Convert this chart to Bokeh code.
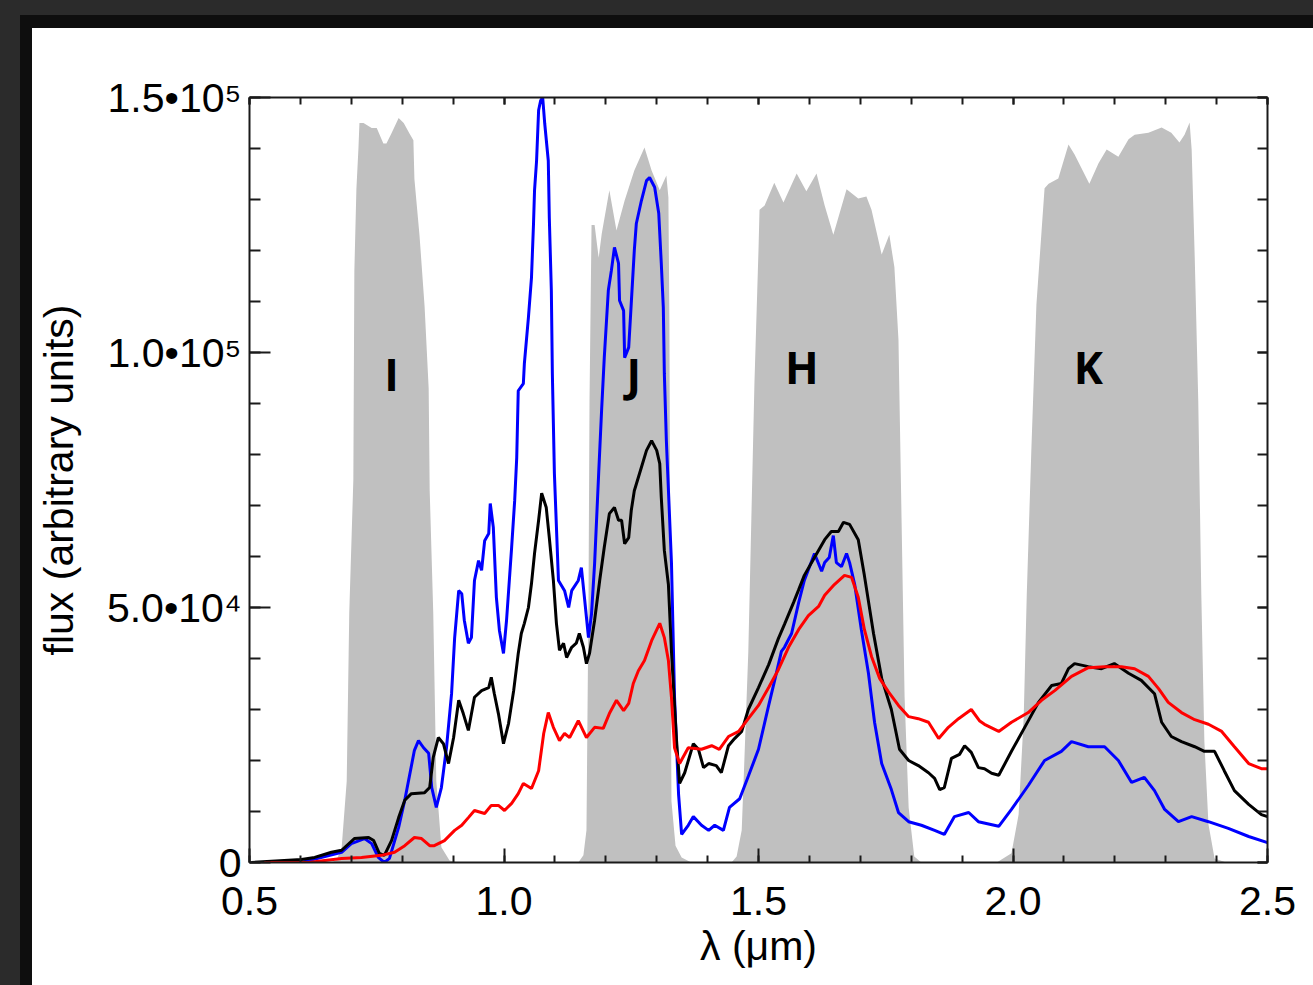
import numpy as np
from bokeh.plotting import figure
from bokeh.models import Range1d, LinearAxis, SingleIntervalTicker, Spacer, CustomJSTickFormatter
from bokeh.layouts import row, column
from bokeh.core.properties import value
from bokeh.embed import file_html
from bokeh.resources import INLINE

SCALE = 1000.0  # all flux values below are in units of 10^3 (arbitrary units)

# ---------------- filter transmission bands (grey) ----------------
I_band_x = [0.660, 0.671, 0.681, 0.691, 0.696, 0.704, 0.706, 0.710, 0.714, 0.716,
            0.724, 0.740, 0.750, 0.763, 0.769, 0.779, 0.793, 0.803, 0.814, 0.822,
            0.824, 0.834, 0.844, 0.852, 0.854, 0.861, 0.867, 0.877, 0.893, 0.910]
I_band_y = [0, 0.5, 2.9, 16, 49, 75, 116, 132, 140, 145,
            145, 144, 144, 141, 141, 143, 146, 145, 143, 141.6,
            134, 123, 109, 93, 73, 49, 16, 3, 0.4, 0]

J_band_x = [1.146, 1.156, 1.162, 1.166, 1.168, 1.172, 1.178, 1.186, 1.192, 1.207,
            1.221, 1.237, 1.256, 1.276, 1.290, 1.306, 1.319, 1.323, 1.325, 1.327,
            1.329, 1.337, 1.349, 1.368]
J_band_y = [0, 1.4, 6.3, 51, 90.6, 125, 125, 118.6, 123.3, 131.8,
            123.9, 129.8, 135.7, 140.2, 135.7, 131.8, 134.7, 130.4, 105.7, 51,
            12, 3.3, 1.0, 0]

H_band_x = [1.447, 1.457, 1.467, 1.472, 1.480, 1.486, 1.492, 1.500, 1.502, 1.512,
            1.531, 1.549, 1.575, 1.594, 1.614, 1.630, 1.647, 1.673, 1.696, 1.712,
            1.722, 1.742, 1.757, 1.767, 1.775, 1.781, 1.787, 1.795, 1.806, 1.820]
H_band_y = [0, 1.2, 6.3, 19.4, 41.4, 67.6, 93.9, 120.2, 128.0, 128.8,
            133.3, 129.4, 135.1, 131.6, 135.1, 128.8, 123.1, 132.0, 130.2, 130.6,
            128.0, 119.2, 123.1, 116.7, 102.5, 67.6, 32.5, 10.8, 1.2, 0]

K_band_x = [1.968, 1.997, 2.011, 2.021, 2.027, 2.036, 2.046, 2.056, 2.062, 2.070,
            2.089, 2.109, 2.121, 2.150, 2.168, 2.184, 2.207, 2.227, 2.239, 2.266,
            2.292, 2.311, 2.327, 2.337, 2.347, 2.351, 2.357, 2.364, 2.370, 2.376,
            2.384, 2.396, 2.419]
K_band_y = [0, 1.8, 9.4, 28.4, 52.4, 80.8, 109.4, 123.7, 132.2, 133.1,
            134.1, 140.8, 138.8, 133.1, 137.1, 139.8, 138.4, 141.8, 142.7, 143.1,
            144.1, 143.1, 141.2, 142.7, 145.1, 139.8, 118.8, 90.4, 52.4, 23.7,
            7.5, 0.8, 0]

band_labels = ["I", "J", "H", "K"]
band_label_x = [0.779, 1.255, 1.585, 2.148]
band_label_y = [95.7, 95.7, 97.2, 97.2]

# ---------------- spectra ----------------
blue_x = [0.504, 0.524, 0.602, 0.681, 0.700, 0.726, 0.740, 0.753, 0.765, 0.775,
          0.793, 0.805, 0.824, 0.832, 0.842, 0.852, 0.858, 0.867, 0.877, 0.887,
          0.897, 0.903, 0.911, 0.917, 0.922, 0.930, 0.936, 0.942, 0.950, 0.956,
          0.962, 0.970, 0.973, 0.979, 0.985, 0.991, 0.999, 1.005, 1.015, 1.021,
          1.025, 1.028, 1.038, 1.040, 1.048, 1.054, 1.058, 1.060, 1.064, 1.068,
          1.072, 1.076, 1.080, 1.087, 1.089, 1.093, 1.095, 1.097, 1.099, 1.107,
          1.119, 1.127, 1.133, 1.146, 1.152, 1.158, 1.166, 1.172, 1.178, 1.186,
          1.192, 1.197, 1.205, 1.211, 1.217, 1.225, 1.227, 1.235, 1.237, 1.245,
          1.250, 1.256, 1.260, 1.270, 1.280, 1.286, 1.296, 1.304, 1.309, 1.313,
          1.315, 1.319, 1.329, 1.335, 1.343, 1.349, 1.362, 1.372, 1.388, 1.402,
          1.414, 1.431, 1.443, 1.463, 1.480, 1.500, 1.520, 1.535, 1.545, 1.551,
          1.565, 1.579, 1.590, 1.610, 1.624, 1.630, 1.639, 1.647, 1.653, 1.663,
          1.673, 1.679, 1.689, 1.702, 1.716, 1.728, 1.742, 1.761, 1.775, 1.795,
          1.820, 1.846, 1.865, 1.885, 1.913, 1.932, 1.972, 1.997, 2.030, 2.062,
          2.095, 2.115, 2.148, 2.180, 2.207, 2.233, 2.258, 2.278, 2.298, 2.325,
          2.351, 2.384, 2.423, 2.463, 2.500]
blue_y = [0, 0, 0, 2.0, 3.7, 4.7, 3.7, 1.0, 0, 0.8,
          6.9, 12.2, 22.0, 23.9, 22.5, 21.4, 14.7, 10.8, 14.7, 22.5,
          33.1, 44.0, 53.3, 52.7, 47.5, 43.0, 44.1, 55.3, 59.2, 57.3,
          63.1, 64.5, 70.4, 65.7, 52.0, 45.5, 41.0, 47.5, 61.8, 71.0,
          79.4, 92.5, 93.9, 97.8, 106.9, 114.7, 125.3, 131.8, 137.6, 147.5,
          149.4, 150.0, 144.9, 137.6, 126.5, 112.2, 95.9, 86.1, 76.3, 55.3,
          53.3, 50.0, 53.3, 55.3, 57.8, 52.0, 44.1, 48.8, 58.6, 76.3,
          89.2, 99.0, 112.2, 116.1, 120.6, 117.5, 110.2, 108.2, 99.0, 101.0,
          109.6, 120.0, 125.3, 129.8, 133.7, 134.3, 132.4, 127.3, 117.5, 108.8,
          95.9, 82.7, 58.8, 32.5, 13.3, 5.5, 7.3, 9.0, 7.3, 6.3,
          7.3, 6.3, 10.8, 12.5, 16.9, 22.2, 30.8, 37.1, 41.4, 42.2,
          44.9, 51.0, 55.3, 60.6, 57.1, 58.8, 59.8, 64.1, 58.8, 58.0,
          60.6, 58.8, 54.5, 45.7, 37.1, 27.5, 19.4, 14.3, 9.8, 8.0,
          7.3, 6.3, 5.5, 9.0, 9.8, 8.0, 7.1, 10.4, 15.1, 20.0,
          21.8, 23.7, 22.7, 22.7, 20.0, 15.7, 16.7, 14.1, 10.4, 8.0,
          9.0, 8.0, 6.7, 5.1, 3.9]

black_x = [0.504, 0.602, 0.628, 0.661, 0.681, 0.706, 0.734, 0.744, 0.755, 0.765,
           0.779, 0.793, 0.805, 0.818, 0.844, 0.854, 0.861, 0.871, 0.881, 0.891,
           0.901, 0.911, 0.920, 0.930, 0.942, 0.956, 0.970, 0.975, 0.981, 0.989,
           0.999, 1.009, 1.019, 1.028, 1.034, 1.040, 1.048, 1.054, 1.060, 1.068,
           1.074, 1.083, 1.089, 1.097, 1.103, 1.109, 1.117, 1.123, 1.133, 1.142,
           1.148, 1.156, 1.162, 1.168, 1.178, 1.188, 1.197, 1.207, 1.217, 1.225,
           1.231, 1.237, 1.245, 1.250, 1.256, 1.270, 1.280, 1.290, 1.300, 1.306,
           1.309, 1.315, 1.323, 1.329, 1.339, 1.345, 1.355, 1.372, 1.382, 1.392,
           1.402, 1.417, 1.427, 1.441, 1.453, 1.467, 1.480, 1.500, 1.520, 1.539,
           1.551, 1.569, 1.579, 1.590, 1.610, 1.630, 1.643, 1.657, 1.667, 1.679,
           1.696, 1.708, 1.726, 1.742, 1.761, 1.777, 1.795, 1.814, 1.834, 1.846,
           1.856, 1.865, 1.879, 1.895, 1.905, 1.918, 1.932, 1.944, 1.958, 1.972,
           1.997, 2.023, 2.050, 2.076, 2.095, 2.109, 2.121, 2.148, 2.174, 2.199,
           2.227, 2.252, 2.278, 2.292, 2.311, 2.331, 2.357, 2.376, 2.396, 2.415,
           2.435, 2.463, 2.488, 2.500]
black_y = [0, 0.6, 1.0, 2.0, 2.4, 4.7, 4.9, 4.3, 1.8, 1.4,
           4.3, 8.8, 12.2, 13.5, 13.7, 14.7, 20.6, 24.5, 23.3, 19.4,
           24.5, 31.8, 29.2, 25.9, 32.4, 33.7, 34.3, 36.3, 33.1, 29.2,
           23.3, 27.3, 33.7, 41.0, 44.9, 46.9, 50.0, 54.7, 60.6, 67.1,
           72.4, 69.6, 63.7, 55.3, 46.9, 41.6, 43.0, 40.2, 42.2, 43.0,
           44.9, 42.2, 39.0, 41.0, 47.5, 55.3, 61.8, 68.4, 69.6, 67.1,
           67.1, 62.5, 63.7, 69.0, 72.9, 77.5, 80.8, 82.7, 80.8, 78.2,
           71.6, 61.2, 54.5, 41.4, 23.9, 15.5, 17.6, 23.3, 22.2, 18.6,
           19.4, 19.0, 17.6, 22.9, 24.3, 25.7, 30.0, 34.3, 38.8, 43.9,
           46.7, 51.0, 53.5, 56.3, 59.8, 63.3, 64.9, 64.9, 66.7, 66.3,
           63.3, 56.3, 44.9, 36.1, 30.0, 22.2, 20.0, 19.0, 17.6, 16.5,
           14.3, 14.7, 20.4, 21.2, 22.9, 21.6, 18.6, 18.4, 17.5, 17.1,
           21.8, 26.5, 31.4, 34.7, 35.1, 38.0, 39.0, 38.4, 38.0, 39.0,
           37.1, 35.7, 33.1, 27.5, 24.7, 23.7, 22.7, 21.8, 21.8, 18.0,
           14.1, 11.4, 9.4, 9.0]

red_x = [0.529, 0.616, 0.681, 0.720, 0.759, 0.785, 0.805, 0.824, 0.838, 0.854,
         0.863, 0.883, 0.903, 0.917, 0.930, 0.942, 0.962, 0.975, 0.989, 1.001,
         1.015, 1.028, 1.038, 1.054, 1.068, 1.078, 1.087, 1.097, 1.109, 1.119,
         1.129, 1.146, 1.162, 1.178, 1.195, 1.207, 1.221, 1.235, 1.245, 1.254,
         1.264, 1.276, 1.290, 1.306, 1.315, 1.323, 1.329, 1.335, 1.345, 1.362,
         1.388, 1.408, 1.423, 1.441, 1.461, 1.480, 1.500, 1.520, 1.539, 1.559,
         1.579, 1.598, 1.618, 1.630, 1.649, 1.669, 1.683, 1.696, 1.708, 1.722,
         1.738, 1.755, 1.775, 1.795, 1.814, 1.834, 1.854, 1.873, 1.893, 1.918,
         1.934, 1.944, 1.972, 1.997, 2.030, 2.056, 2.082, 2.115, 2.148, 2.180,
         2.213, 2.239, 2.266, 2.286, 2.305, 2.331, 2.357, 2.384, 2.410, 2.435,
         2.463, 2.488, 2.500]
red_y = [0, 0, 0.8, 1.0, 1.4, 2.0, 3.3, 4.9, 4.7, 3.3,
         3.3, 4.3, 6.3, 7.3, 8.8, 10.2, 9.6, 11.2, 11.2, 10.2,
         11.6, 13.5, 15.5, 14.5, 18.0, 25.3, 29.4, 26.5, 23.9, 25.3,
         24.5, 27.8, 24.5, 26.5, 26.3, 29.2, 31.8, 29.8, 31.2, 35.1,
         37.6, 39.6, 43.5, 46.9, 44.1, 39.6, 32.4, 22.5, 19.4, 22.5,
         22.2, 22.9, 22.2, 24.7, 25.7, 28.2, 30.8, 34.3, 37.8, 42.2,
         45.7, 48.4, 50.2, 52.4, 54.5, 56.3, 55.9, 52.0, 45.7, 40.4,
         36.1, 33.5, 30.8, 28.6, 28.2, 27.5, 24.3, 26.5, 28.2, 30.0,
         27.8, 27.1, 25.7, 27.5, 29.4, 31.8, 33.7, 36.5, 38.2, 38.4,
         38.4, 38.0, 36.5, 34.1, 31.4, 29.4, 28.0, 27.1, 25.7, 22.7,
         19.4, 18.4, 18.4]

x_tick_labels = {0.5: "0.5", 1: "1.0", 1.5: "1.5", 2: "2.0", 2.5: "2.5"}
y_tick_labels = {0: "0", 50000: "5.0\u202210\u2074", 100000: "1.0\u202210\u2075",
                 150000: "1.5\u202210\u2075"}

FONT = "Liberation Sans"
AX = "#1a1a1a"
TICK_FS = "41px"

p = figure(frame_width=1018, frame_height=765, x_range=Range1d(0.5, 2.5), y_range=Range1d(0, 150000),
           output_backend="svg", toolbar_location=None,
           min_border_left=216, min_border_right=39, min_border_top=69, min_border_bottom=115,
           background_fill_color="white", border_fill_color="white")
p.outline_line_color = None
p.grid.visible = False

for bx, by in [(I_band_x, I_band_y), (J_band_x, J_band_y), (H_band_x, H_band_y), (K_band_x, K_band_y)]:
    p.varea(x=bx, y1=0, y2=np.array(by) * SCALE, fill_color="#c0c0c0")

p.text(x=band_label_x, y=np.array(band_label_y) * SCALE, text=band_labels,
       text_font=value("Open Sans"), text_font_style="bold", text_font_size="44px",
       text_align="center", text_baseline="alphabetic", text_color="black")

p.line(blue_x, np.array(blue_y) * SCALE, line_color="#0000ff", line_width=3)
p.line(black_x, np.array(black_y) * SCALE, line_color="black", line_width=3)
p.line(red_x, np.array(red_y) * SCALE, line_color="#ff0000", line_width=3)


def style_axis(ax, major_in, minor_in):
    ax.major_tick_in = major_in
    ax.major_tick_out = 0
    ax.minor_tick_in = minor_in
    ax.minor_tick_out = 0
    ax.axis_line_width = 2
    ax.axis_line_color = AX
    ax.major_tick_line_width = 2
    ax.major_tick_line_color = AX
    ax.minor_tick_line_width = 2
    ax.minor_tick_line_color = AX
    ax.major_label_text_font = FONT
    ax.major_label_text_font_size = TICK_FS
    ax.major_label_text_color = "black"
    ax.axis_label_text_font = FONT
    ax.axis_label_text_font_size = "41px"
    ax.axis_label_text_font_style = "normal"
    ax.axis_label_text_color = "black"


xt = SingleIntervalTicker(interval=0.5, num_minor_ticks=5)
yt = SingleIntervalTicker(interval=50000, num_minor_ticks=5)

xa = p.xaxis[0]
xa.ticker = xt
style_axis(xa, 14, 7)
xa.major_label_overrides = x_tick_labels
xa.major_label_standoff = 24
xa.axis_label = "\u03bb (\u03bcm)"
xa.axis_label_standoff = 5

ya = p.yaxis[0]
ya.ticker = yt
style_axis(ya, 21, 11)
ya.major_label_overrides = y_tick_labels
ya.major_label_standoff = 8
ya.axis_label = "flux (arbitrary units)"
ya.axis_label_standoff = 22

blank = CustomJSTickFormatter(code="return ''")
top = LinearAxis(ticker=xt, formatter=blank)
style_axis(top, 7, 7)
top.major_label_standoff = 0
p.add_layout(top, "above")

right = LinearAxis(ticker=yt, formatter=blank)
style_axis(right, 10, 10)
right.major_label_standoff = 0
p.add_layout(right, "right")

top_gray = Spacer(width=1313, height=15, styles={"background-color": "#2b2b2b"})
left_gray = Spacer(width=20, height=970, styles={"background-color": "#2b2b2b"})
top_black = Spacer(width=1293, height=13, styles={"background-color": "#0e0e0e"})
left_black = Spacer(width=12, height=957, styles={"background-color": "#0e0e0e"})

page = column(top_gray, row(left_gray, column(top_black, row(left_black, p))))

open("out.html", "w").write(file_html(page, INLINE))
